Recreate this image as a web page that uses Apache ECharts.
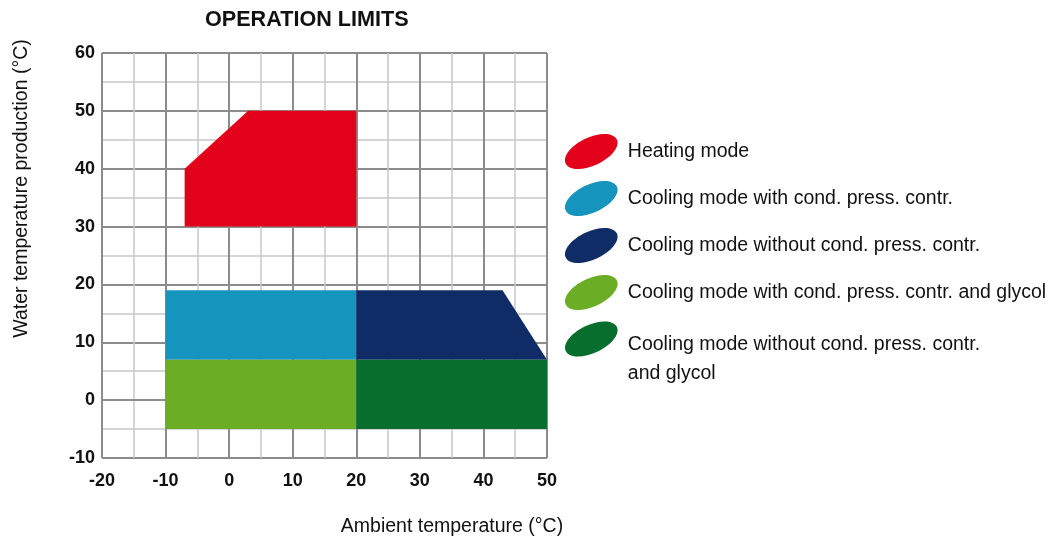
<!DOCTYPE html>
<html>
<head>
<meta charset="utf-8">
<script src="https://cdn.jsdelivr.net/npm/echarts@6/dist/echarts.min.js"></script>
<style>
html,body{margin:0;padding:0;background:#fff;}
#chart{width:1054px;height:542px;}
</style>
</head>
<body>
<div id="chart"></div>
<script>
// ---- data ----
const xTicks = [-20, -10, 0, 10, 20, 30, 40, 50];
const yTicks = [-10, 0, 10, 20, 30, 40, 50, 60];

const heatingX = [-7, -7, 3, 20, 20];
const heatingY = [30, 40, 50, 50, 30];

const coolWithX = [-10, 20, 20, -10];
const coolWithY = [19, 19, 7, 7];

const coolWithoutX = [20, 43, 50, 20];
const coolWithoutY = [19, 19, 7, 7];

const glycolWithX = [-10, 20, 20, -10];
const glycolWithY = [7, 7, -5, -5];

const glycolWithoutX = [20, 50, 50, 20];
const glycolWithoutY = [7, 7, -5, -5];

const seriesNames = [
  'Heating mode',
  'Cooling mode with cond. press. contr.',
  'Cooling mode without cond. press. contr.',
  'Cooling mode with cond. press. contr. and glycol',
  'Cooling mode without cond. press. contr. and glycol'
];
const seriesColors = ['#E2001A', '#1594BD', '#0F2C66', '#6BAE25', '#086E2D'];

// ---- chart ----
const FONT = '"Liberation Sans", Arial, Helvetica, sans-serif';
const ellipse = 'path://M25.38,-11.83 C28.65,-4.82 19.93,6.16 5.92,12.69 C-8.09,19.22 -22.11,18.84 -25.38,11.83 C-28.65,4.82 -19.93,-6.16 -5.92,-12.69 C8.09,-19.22 22.11,-18.84 25.38,-11.83 Z';

function poly(name, xs, ys, color) {
  return {
    type: 'custom',
    name: name,
    coordinateSystem: 'cartesian2d',
    itemStyle: { color: color },
    encode: { x: 0, y: 1 },
    data: xs.map(function (x, i) { return [x, ys[i]]; }),
    renderItem: function (params, api) {
      if (params.dataIndex !== 0) return null;
      const pts = xs.map(function (x, i) { return api.coord([x, ys[i]]); });
      return { type: 'polygon', shape: { points: pts }, style: { fill: color } };
    },
    silent: true
  };
}

const gridMajor = '#8c8c8c';
const gridMinor = '#c8c8c8';

function axisCommon() {
  return {
    type: 'value',
    interval: 10,
    axisLine: { show: true, lineStyle: { color: gridMajor, width: 2 } },
    axisTick: { show: true, length: 5, lineStyle: { color: gridMajor, width: 2 } },
    minorTick: { show: false, splitNumber: 2 },
    splitLine: { show: true, lineStyle: { color: gridMajor, width: 2 } },
    minorSplitLine: { show: true, lineStyle: { color: gridMinor, width: 1.5 } },
    axisLabel: { fontFamily: FONT, fontWeight: 'bold', fontSize: 18, color: '#111' },
    nameTextStyle: { fontFamily: FONT, fontSize: 19.5, color: '#111' }
  };
}

const xAxis = Object.assign(axisCommon(), {
  min: xTicks[0], max: xTicks[xTicks.length - 1],
  name: 'Ambient temperature (°C)',
  nameLocation: 'middle',
  nameGap: 59
});
xAxis.axisLabel = Object.assign({}, xAxis.axisLabel, { margin: 14 });
xAxis.nameTextStyle = Object.assign({}, xAxis.nameTextStyle, { padding: [0, 0, 0, 255] });

const yAxis = Object.assign(axisCommon(), {
  min: yTicks[0], max: yTicks[yTicks.length - 1],
  name: 'Water temperature production (°C)',
  nameLocation: 'middle',
  nameRotate: 90,
  nameGap: 70
});
yAxis.axisLabel = Object.assign({}, yAxis.axisLabel, { margin: 7 });
yAxis.nameTextStyle = Object.assign({}, yAxis.nameTextStyle, { padding: [0, 0, 0, 134] });

const legendText = { fontFamily: FONT, fontSize: 19.5, color: '#111', padding: [0, 0, 0, 5] };

const chart = echarts.init(document.getElementById('chart'), null, { renderer: 'canvas' });
chart.setOption({
  animation: false,
  backgroundColor: '#fff',
  title: {
    text: 'OPERATION LIMITS',
    left: 205, top: 9, padding: 0,
    textStyle: { fontFamily: FONT, fontWeight: 'bold', fontSize: 21.6, color: '#111' }
  },
  grid: { left: 102, right: 507, top: 53, bottom: 84, containLabel: false },
  xAxis: xAxis,
  yAxis: yAxis,
  legend: [
    {
      orient: 'vertical', left: 565, top: 134, padding: 0,
      itemWidth: 53, itemHeight: 35, itemGap: 12,
      icon: ellipse, selectedMode: false,
      data: seriesNames.slice(0, 4),
      textStyle: legendText
    },
    {
      orient: 'vertical', left: 565, top: 300, padding: 0,
      itemWidth: 53, itemHeight: 35,
      icon: ellipse, selectedMode: false,
      data: seriesNames.slice(4),
      formatter: function (n) {
        const parts = n.split(' and glycol');
        return '{b| }\n{a|' + parts[0] + '}\n{a|and glycol}';
      },
      textStyle: Object.assign({}, legendText, {
        rich: {
          a: { fontFamily: FONT, fontSize: 19.5, color: '#111', lineHeight: 29 },
          b: { fontFamily: FONT, fontSize: 19.5, color: '#111', lineHeight: 41 }
        }
      })
    }
  ],
  series: [
    poly(seriesNames[0], heatingX, heatingY, seriesColors[0]),
    poly(seriesNames[1], coolWithX, coolWithY, seriesColors[1]),
    poly(seriesNames[2], coolWithoutX, coolWithoutY, seriesColors[2]),
    poly(seriesNames[3], glycolWithX, glycolWithY, seriesColors[3]),
    poly(seriesNames[4], glycolWithoutX, glycolWithoutY, seriesColors[4])
  ]
});
</script>
</body>
</html>
